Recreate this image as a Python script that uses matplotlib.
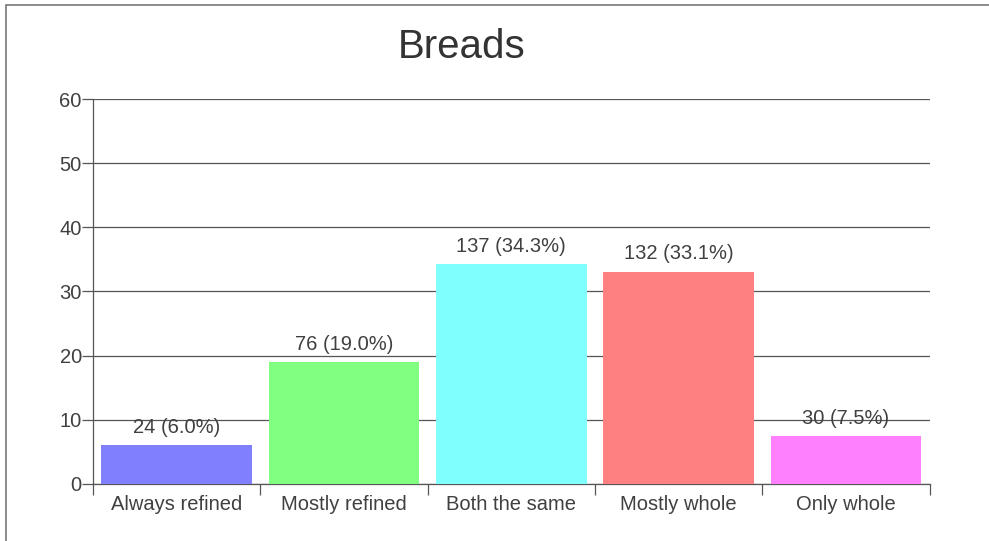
import numpy as np
import matplotlib
matplotlib.use("Agg")
import matplotlib.pyplot as plt
from matplotlib.patches import Rectangle

# data
categories = ["Always refined", "Mostly refined", "Both the same", "Mostly whole", "Only whole"]
counts = [24, 76, 137, 132, 30]
percents = [6.0, 19.0, 34.3, 33.1, 7.5]
bar_colors = ["#8080ff", "#80ff80", "#80ffff", "#ff8080", "#ff80ff"]
y_ticks = [0, 10, 20, 30, 40, 50, 60]

plt.rcParams["font.family"] = ["Liberation Sans", "DejaVu Sans"]
text_color = "#404040"
line_color = "#555555"

fig = plt.figure(figsize=(9.89, 5.41), dpi=100)
ax = fig.add_axes([0.094, 0.1054, 0.846, 0.7116])

# outer frame (runs off the right and bottom edges)
fig.patches.append(Rectangle((6 / 989, -0.01), 1.0, 1 - 5 / 541 + 0.01,
                             transform=fig.transFigure, fill=False,
                             edgecolor="#777777", linewidth=1.2))

x = np.arange(len(categories))
ax.bar(x, percents, width=0.9, color=bar_colors, zorder=3)

for xi, c, p in zip(x, counts, percents):
    ax.annotate("{} ({:.1f}%)".format(c, p), (xi, p), xytext=(0, 6),
                textcoords="offset points", ha="center", va="bottom",
                fontsize=14.5, color=text_color, zorder=4)

ax.set_xlim(-0.5, len(categories) - 0.5)
ax.set_ylim(0, 60)
ax.set_yticks(y_ticks)
ax.set_yticklabels([str(t) for t in y_ticks], fontsize=14.5, color=text_color)
ax.yaxis.grid(True, color=line_color, linewidth=0.9, zorder=0)
ax.tick_params(axis="y", length=8, width=0.9, color=line_color, pad=0)

# category labels at centers, tick marks at boundaries
ax.set_xticks(np.arange(-0.5, len(categories)), minor=False)
ax.set_xticklabels([""] * (len(categories) + 1))
ax.tick_params(axis="x", length=8, width=0.9, color=line_color)
ax.set_xticks(x, minor=True)
ax.set_xticklabels(categories, minor=True, fontsize=14.5, color=text_color)
ax.tick_params(axis="x", which="minor", length=0, pad=8)

for side in ["top", "right"]:
    ax.spines[side].set_visible(False)
for side in ["left", "bottom"]:
    ax.spines[side].set_color(line_color)
    ax.spines[side].set_linewidth(0.9)

fig.text(462 / 989, 1 - 47 / 541, "Breads", fontsize=29, color="#333333",
         ha="center", va="center")

fig.savefig("out.png", dpi=100)
